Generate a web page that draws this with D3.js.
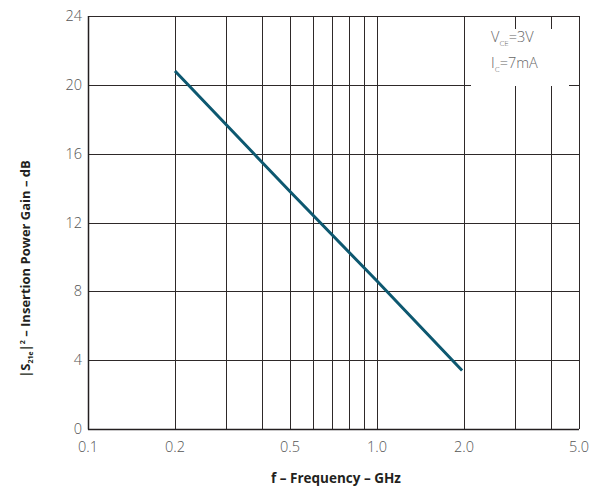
<!DOCTYPE html>
<html>
<head>
<meta charset="utf-8">
<script src="https://cdn.jsdelivr.net/npm/d3@7"></script>
<style>
  body { margin: 0; background: #fff; }
  text { font-family: "Open Sans", "Noto Sans", sans-serif; }
</style>
</head>
<body>
<div id="chart"></div>
<script>
// frequency (GHz) and gain (dB)
const freq = [0.2, 0.5, 1.0, 1.97];
const gain = [20.8, 13.8, 8.6, 3.4];

const xGrid = [0.1, 0.2, 0.3, 0.4, 0.5, 0.6, 0.7, 0.8, 0.9, 1.0, 2.0, 3.0, 4.0, 5.0];
const xLabels = [0.1, 0.2, 0.5, 1.0, 2.0, 5.0];
const yTicks = [0, 4, 8, 12, 16, 20, 24];

const width = 605, height = 488;
const margin = { top: 16, right: 26, bottom: 59, left: 88 };

const svg = d3.select("#chart").append("svg")
    .attr("width", width)
    .attr("height", height);

const x = d3.scaleLog().domain([0.1, 5.0])
    .range([margin.left, width - margin.right]);
const y = d3.scaleLinear().domain([0, 24])
    .range([height - margin.bottom, margin.top]);

const px = v => Math.round(v) + 0.5;

// grid
svg.append("g")
    .selectAll("line")
    .data(xGrid)
    .join("line")
    .attr("x1", d => px(x(d))).attr("x2", d => px(x(d)))
    .attr("y1", y(24)).attr("y2", y(0))
    .attr("stroke", "#2e2929")
    .attr("stroke-width", 1);

svg.append("g")
    .selectAll("line")
    .data(yTicks)
    .join("line")
    .attr("x1", x(0.1)).attr("x2", x(5.0))
    .attr("y1", d => px(y(d))).attr("y2", d => px(y(d)))
    .attr("stroke", "#2e2929")
    .attr("stroke-width", 1);

// left + bottom axis a bit heavier
svg.append("line")
    .attr("x1", px(x(0.1))).attr("x2", px(x(0.1)))
    .attr("y1", y(24)).attr("y2", y(0) + 0.5)
    .attr("stroke", "#231f20").attr("stroke-width", 1.5);
svg.append("line")
    .attr("x1", x(0.1)).attr("x2", x(5.0))
    .attr("y1", px(y(0))).attr("y2", px(y(0)))
    .attr("stroke", "#231f20").attr("stroke-width", 1.5);

// legend box blanks out the grid
svg.append("rect")
    .attr("x", 471).attr("y", 29)
    .attr("width", 98).attr("height", 57)
    .attr("fill", "#fff");

const leg = svg.append("g").attr("fill", "#666").attr("font-size", 14.5).attr("font-weight", 300);
const t1 = leg.append("text").attr("x", 491).attr("y", 42);
t1.append("tspan").text("V");
t1.append("tspan").attr("font-size", 8).attr("dy", 4).text("CE");
t1.append("tspan").attr("dy", -4).text("=3V");
const t2 = leg.append("text").attr("x", 491).attr("y", 68);
t2.append("tspan").text("I");
t2.append("tspan").attr("font-size", 8).attr("dy", 4).text("C");
t2.append("tspan").attr("dy", -4).text("=7mA");

// curve
const line = d3.line()
    .x((d, i) => x(freq[i]))
    .y(d => y(d));

svg.append("path")
    .datum(gain)
    .attr("d", line)
    .attr("fill", "none")
    .attr("stroke", "#0d5870")
    .attr("stroke-width", 3);

// tick labels
svg.append("g")
    .selectAll("text")
    .data(yTicks)
    .join("text")
    .attr("x", margin.left - 6)
    .attr("y", d => y(d))
    .attr("dy", "0.35em")
    .attr("text-anchor", "end")
    .attr("font-size", 14.5)
    .attr("font-weight", 300)
    .attr("fill", "#555")
    .text(d => d);

svg.append("g")
    .selectAll("text")
    .data(xLabels)
    .join("text")
    .attr("x", d => x(d))
    .attr("y", y(0) + 18)
    .attr("dy", "0.35em")
    .attr("text-anchor", "middle")
    .attr("font-size", 14.5)
    .attr("font-weight", 300)
    .attr("fill", "#555")
    .text(d => d.toFixed(1));

// axis titles
svg.append("text")
    .attr("x", 336)
    .attr("y", 478)
    .attr("dy", "0.35em")
    .attr("text-anchor", "middle")
    .attr("font-size", 13.5)
    .attr("font-weight", "bold")
    .attr("fill", "#231f20")
    .text("f – Frequency – GHz");

const yt = svg.append("text")
    .attr("transform", "translate(25,269) rotate(-90)")
    .attr("dy", "0.35em")
    .attr("text-anchor", "middle")
    .attr("font-size", 13)
    .attr("font-weight", "bold")
    .attr("fill", "#231f20");
yt.append("tspan").text("|S");
yt.append("tspan").attr("font-size", 7).attr("dy", 3).text("21e");
yt.append("tspan").attr("dy", -3).text("|");
yt.append("tspan").attr("font-size", 7).attr("dy", -5).text("2");
yt.append("tspan").attr("dy", 5).text(" – Insertion Power Gain – dB");
</script>
</body>
</html>
